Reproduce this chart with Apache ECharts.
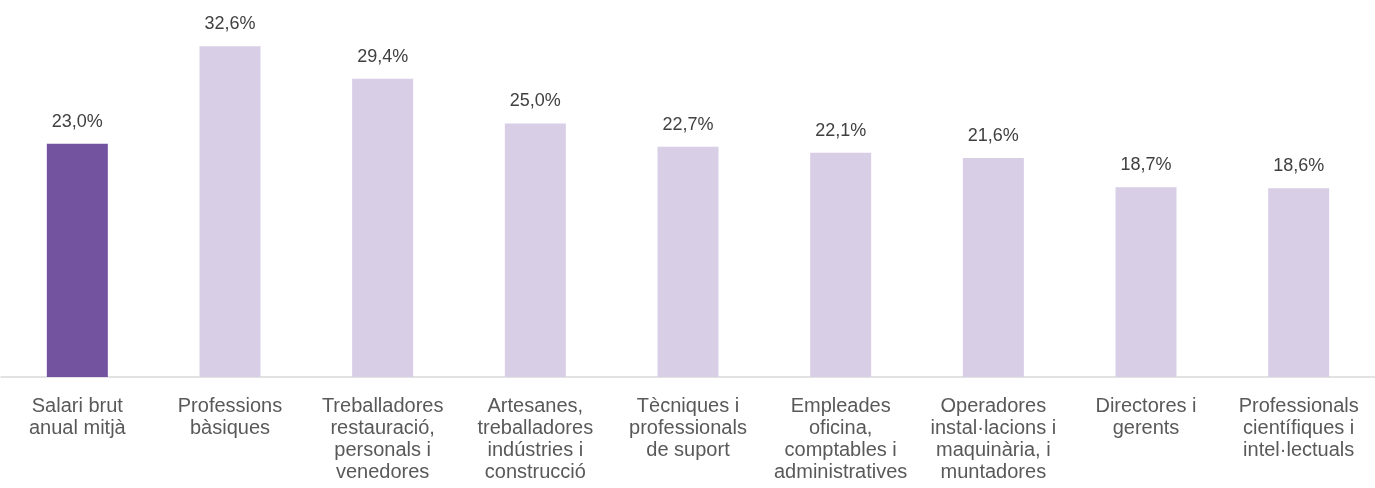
<!DOCTYPE html>
<html>
<head>
<meta charset="utf-8">
<script src="https://cdn.jsdelivr.net/npm/echarts@6/dist/echarts.min.js"></script>
<style>
html,body{margin:0;padding:0;background:#fff;}
#chart{width:1375px;height:488px;}
</style>
</head>
<body>
<div id="chart"></div>
<script>
const categories = [
  "Salari brut\nanual mitjà",
  "Professions\nbàsiques",
  "Treballadores\nrestauració,\npersonals i\nvenedores",
  "Artesanes,\ntreballadores\nindústries i\nconstrucció",
  "Tècniques i\nprofessionals\nde suport",
  "Empleades\noficina,\ncomptables i\nadministratives",
  "Operadores\ninstal·lacions i\nmaquinària, i\nmuntadores",
  "Directores i\ngerents",
  "Professionals\ncientífiques i\nintel·lectuals"
];
const values = [23.0, 32.6, 29.4, 25.0, 22.7, 22.1, 21.6, 18.7, 18.6];
const highlightColor = "#7352A0";
const baseColor = "#D8CEE6";

const chart = echarts.init(document.getElementById('chart'));
chart.setOption({
  animation: false,
  grid: {left: 1, right: 0, top: 22, bottom: 111, containLabel: false},
  xAxis: {
    type: 'category',
    data: categories,
    axisLine: {show: true, lineStyle: {color: '#D9D9D9', width: 1.5}},
    axisTick: {show: false},
    axisLabel: {
      interval: 0,
      margin: 18,
      color: '#595959',
      fontFamily: 'Liberation Sans, Arial, sans-serif',
      fontSize: 20,
      lineHeight: 22,
      align: 'center'
    }
  },
  yAxis: {
    type: 'value',
    min: 0,
    max: 35,
    show: false,
    splitLine: {show: false}
  },
  series: [{
    type: 'bar',
    barWidth: 61,
    data: values.map((v, i) => ({
      value: v,
      itemStyle: {color: i === 0 ? highlightColor : baseColor}
    })),
    label: {
      show: true,
      position: 'top',
      distance: 13,
      color: '#404040',
      fontFamily: 'Liberation Sans, Arial, sans-serif',
      fontSize: 18,
      formatter: p => p.value.toFixed(1).replace('.', ',') + '%'
    }
  }]
});
</script>
</body>
</html>
